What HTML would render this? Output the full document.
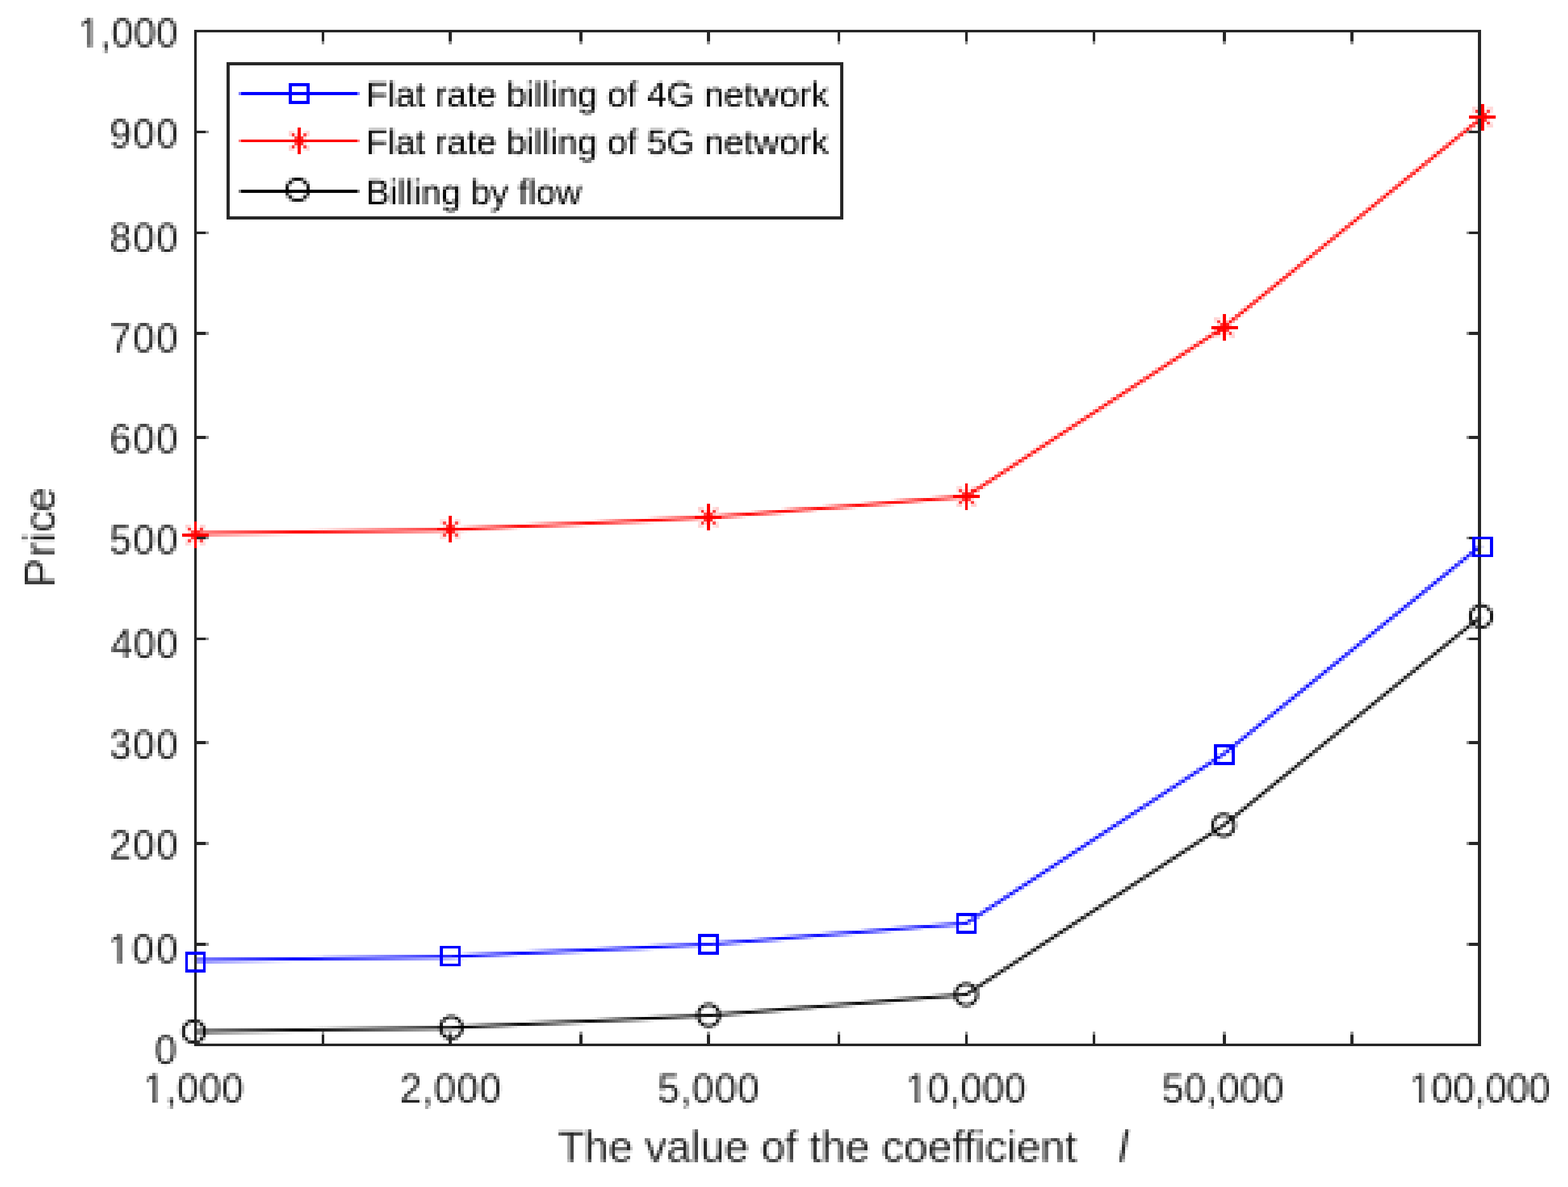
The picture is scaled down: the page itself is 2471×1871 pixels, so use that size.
<!DOCTYPE html>
<html lang="en"><head><meta charset="utf-8"><title>Price versus the value of the coefficient l</title>
<style>html,body{margin:0;padding:0;background:#fff;}body{width:2471px;height:1871px;overflow:hidden;}svg{display:block;}text{font-family:"Liberation Sans",sans-serif;white-space:pre;}</style>
</head><body>
<svg width="2471" height="1871" viewBox="0 0 2471 1871" role="img" aria-label="Line chart: price versus the value of the coefficient l">
<defs>
<path id="c5" fill="#fff" shape-rendering="crispEdges" d="M8 0h1v1871h-1zM13 0h1v1871h-1zM22 0h1v1871h-1zM27 0h1v1871h-1zM36 0h1v1871h-1zM41 0h1v1871h-1zM50 0h1v1871h-1zM55 0h1v1871h-1zM60 0h1v1871h-1zM69 0h1v1871h-1zM74 0h1v1871h-1zM83 0h1v1871h-1zM88 0h1v1871h-1zM97 0h1v1871h-1zM102 0h1v1871h-1zM111 0h1v1871h-1zM116 0h1v1871h-1zM125 0h1v1871h-1zM130 0h1v1871h-1zM139 0h1v1871h-1zM144 0h1v1871h-1zM153 0h1v1871h-1zM158 0h1v1871h-1zM167 0h1v1871h-1zM172 0h1v1871h-1zM181 0h1v1871h-1zM186 0h1v1871h-1zM195 0h1v1871h-1zM200 0h1v1871h-1zM209 0h1v1871h-1zM214 0h1v1871h-1zM223 0h1v1871h-1zM228 0h1v1871h-1zM237 0h1v1871h-1zM242 0h1v1871h-1zM251 0h1v1871h-1zM256 0h1v1871h-1zM265 0h1v1871h-1zM270 0h1v1871h-1zM275 0h1v1871h-1zM284 0h1v1871h-1zM289 0h1v1871h-1zM298 0h1v1871h-1zM303 0h1v1871h-1zM312 0h1v1871h-1zM317 0h1v1871h-1zM326 0h1v1871h-1zM331 0h1v1871h-1zM340 0h1v1871h-1zM345 0h1v1871h-1zM354 0h1v1871h-1zM359 0h1v1871h-1zM368 0h1v1871h-1zM373 0h1v1871h-1zM382 0h1v1871h-1zM387 0h1v1871h-1zM396 0h1v1871h-1zM401 0h1v1871h-1zM410 0h1v1871h-1zM415 0h1v1871h-1zM424 0h1v1871h-1zM429 0h1v1871h-1zM438 0h1v1871h-1zM443 0h1v1871h-1zM452 0h1v1871h-1zM457 0h1v1871h-1zM466 0h1v1871h-1zM471 0h1v1871h-1zM480 0h1v1871h-1zM485 0h1v1871h-1zM490 0h1v1871h-1zM499 0h1v1871h-1zM504 0h1v1871h-1zM513 0h1v1871h-1zM518 0h1v1871h-1zM527 0h1v1871h-1zM532 0h1v1871h-1zM541 0h1v1871h-1zM546 0h1v1871h-1zM555 0h1v1871h-1zM560 0h1v1871h-1zM569 0h1v1871h-1zM574 0h1v1871h-1zM583 0h1v1871h-1zM588 0h1v1871h-1zM597 0h1v1871h-1zM602 0h1v1871h-1zM611 0h1v1871h-1zM616 0h1v1871h-1zM625 0h1v1871h-1zM630 0h1v1871h-1zM639 0h1v1871h-1zM644 0h1v1871h-1zM653 0h1v1871h-1zM658 0h1v1871h-1zM667 0h1v1871h-1zM672 0h1v1871h-1zM681 0h1v1871h-1zM686 0h1v1871h-1zM695 0h1v1871h-1zM700 0h1v1871h-1zM709 0h1v1871h-1zM714 0h1v1871h-1zM719 0h1v1871h-1zM728 0h1v1871h-1zM733 0h1v1871h-1zM742 0h1v1871h-1zM747 0h1v1871h-1zM756 0h1v1871h-1zM761 0h1v1871h-1zM770 0h1v1871h-1zM775 0h1v1871h-1zM784 0h1v1871h-1zM789 0h1v1871h-1zM798 0h1v1871h-1zM803 0h1v1871h-1zM812 0h1v1871h-1zM817 0h1v1871h-1zM826 0h1v1871h-1zM831 0h1v1871h-1zM840 0h1v1871h-1zM845 0h1v1871h-1zM854 0h1v1871h-1zM859 0h1v1871h-1zM868 0h1v1871h-1zM873 0h1v1871h-1zM882 0h1v1871h-1zM887 0h1v1871h-1zM896 0h1v1871h-1zM901 0h1v1871h-1zM910 0h1v1871h-1zM915 0h1v1871h-1zM924 0h1v1871h-1zM929 0h1v1871h-1zM934 0h1v1871h-1zM943 0h1v1871h-1zM948 0h1v1871h-1zM957 0h1v1871h-1zM962 0h1v1871h-1zM971 0h1v1871h-1zM976 0h1v1871h-1zM985 0h1v1871h-1zM990 0h1v1871h-1zM999 0h1v1871h-1zM1004 0h1v1871h-1zM1013 0h1v1871h-1zM1018 0h1v1871h-1zM1027 0h1v1871h-1zM1032 0h1v1871h-1zM1041 0h1v1871h-1zM1046 0h1v1871h-1zM1055 0h1v1871h-1zM1060 0h1v1871h-1zM1069 0h1v1871h-1zM1074 0h1v1871h-1zM1083 0h1v1871h-1zM1088 0h1v1871h-1zM1097 0h1v1871h-1zM1102 0h1v1871h-1zM1111 0h1v1871h-1zM1116 0h1v1871h-1zM1125 0h1v1871h-1zM1130 0h1v1871h-1zM1139 0h1v1871h-1zM1144 0h1v1871h-1zM1149 0h1v1871h-1zM1158 0h1v1871h-1zM1163 0h1v1871h-1zM1172 0h1v1871h-1zM1177 0h1v1871h-1zM1186 0h1v1871h-1zM1191 0h1v1871h-1zM1200 0h1v1871h-1zM1205 0h1v1871h-1zM1214 0h1v1871h-1zM1219 0h1v1871h-1zM1228 0h1v1871h-1zM1233 0h1v1871h-1zM1242 0h1v1871h-1zM1247 0h1v1871h-1zM1256 0h1v1871h-1zM1261 0h1v1871h-1zM1270 0h1v1871h-1zM1275 0h1v1871h-1zM1284 0h1v1871h-1zM1289 0h1v1871h-1zM1298 0h1v1871h-1zM1303 0h1v1871h-1zM1312 0h1v1871h-1zM1317 0h1v1871h-1zM1326 0h1v1871h-1zM1331 0h1v1871h-1zM1340 0h1v1871h-1zM1345 0h1v1871h-1zM1354 0h1v1871h-1zM1359 0h1v1871h-1zM1364 0h1v1871h-1zM1373 0h1v1871h-1zM1378 0h1v1871h-1zM1387 0h1v1871h-1zM1392 0h1v1871h-1zM1401 0h1v1871h-1zM1406 0h1v1871h-1zM1415 0h1v1871h-1zM1420 0h1v1871h-1zM1429 0h1v1871h-1zM1434 0h1v1871h-1zM1443 0h1v1871h-1zM1448 0h1v1871h-1zM1457 0h1v1871h-1zM1462 0h1v1871h-1zM1471 0h1v1871h-1zM1476 0h1v1871h-1zM1485 0h1v1871h-1zM1490 0h1v1871h-1zM1499 0h1v1871h-1zM1504 0h1v1871h-1zM1513 0h1v1871h-1zM1518 0h1v1871h-1zM1527 0h1v1871h-1zM1532 0h1v1871h-1zM1541 0h1v1871h-1zM1546 0h1v1871h-1zM1555 0h1v1871h-1zM1560 0h1v1871h-1zM1569 0h1v1871h-1zM1574 0h1v1871h-1zM1583 0h1v1871h-1zM1588 0h1v1871h-1zM1593 0h1v1871h-1zM1602 0h1v1871h-1zM1607 0h1v1871h-1zM1616 0h1v1871h-1zM1621 0h1v1871h-1zM1630 0h1v1871h-1zM1635 0h1v1871h-1zM1644 0h1v1871h-1zM1649 0h1v1871h-1zM1658 0h1v1871h-1zM1663 0h1v1871h-1zM1672 0h1v1871h-1zM1677 0h1v1871h-1zM1686 0h1v1871h-1zM1691 0h1v1871h-1zM1700 0h1v1871h-1zM1705 0h1v1871h-1zM1714 0h1v1871h-1zM1719 0h1v1871h-1zM1728 0h1v1871h-1zM1733 0h1v1871h-1zM1742 0h1v1871h-1zM1747 0h1v1871h-1zM1756 0h1v1871h-1zM1761 0h1v1871h-1zM1770 0h1v1871h-1zM1775 0h1v1871h-1zM1784 0h1v1871h-1zM1789 0h1v1871h-1zM1798 0h1v1871h-1zM1803 0h1v1871h-1zM1808 0h1v1871h-1zM1817 0h1v1871h-1zM1822 0h1v1871h-1zM1831 0h1v1871h-1zM1836 0h1v1871h-1zM1845 0h1v1871h-1zM1850 0h1v1871h-1zM1859 0h1v1871h-1zM1864 0h1v1871h-1zM1873 0h1v1871h-1zM1878 0h1v1871h-1zM1887 0h1v1871h-1zM1892 0h1v1871h-1zM1901 0h1v1871h-1zM1906 0h1v1871h-1zM1915 0h1v1871h-1zM1920 0h1v1871h-1zM1929 0h1v1871h-1zM1934 0h1v1871h-1zM1943 0h1v1871h-1zM1948 0h1v1871h-1zM1957 0h1v1871h-1zM1962 0h1v1871h-1zM1971 0h1v1871h-1zM1976 0h1v1871h-1zM1985 0h1v1871h-1zM1990 0h1v1871h-1zM1999 0h1v1871h-1zM2004 0h1v1871h-1zM2013 0h1v1871h-1zM2018 0h1v1871h-1zM2023 0h1v1871h-1zM2032 0h1v1871h-1zM2037 0h1v1871h-1zM2046 0h1v1871h-1zM2051 0h1v1871h-1zM2060 0h1v1871h-1zM2065 0h1v1871h-1zM2074 0h1v1871h-1zM2079 0h1v1871h-1zM2088 0h1v1871h-1zM2093 0h1v1871h-1zM2102 0h1v1871h-1zM2107 0h1v1871h-1zM2116 0h1v1871h-1zM2121 0h1v1871h-1zM2130 0h1v1871h-1zM2135 0h1v1871h-1zM2144 0h1v1871h-1zM2149 0h1v1871h-1zM2158 0h1v1871h-1zM2163 0h1v1871h-1zM2172 0h1v1871h-1zM2177 0h1v1871h-1zM2186 0h1v1871h-1zM2191 0h1v1871h-1zM2200 0h1v1871h-1zM2205 0h1v1871h-1zM2214 0h1v1871h-1zM2219 0h1v1871h-1zM2228 0h1v1871h-1zM2233 0h1v1871h-1zM2242 0h1v1871h-1zM2247 0h1v1871h-1zM2252 0h1v1871h-1zM2261 0h1v1871h-1zM2266 0h1v1871h-1zM2275 0h1v1871h-1zM2280 0h1v1871h-1zM2289 0h1v1871h-1zM2294 0h1v1871h-1zM2303 0h1v1871h-1zM2308 0h1v1871h-1zM2317 0h1v1871h-1zM2322 0h1v1871h-1zM2331 0h1v1871h-1zM2336 0h1v1871h-1zM2345 0h1v1871h-1zM2350 0h1v1871h-1zM2359 0h1v1871h-1zM2364 0h1v1871h-1zM2373 0h1v1871h-1zM2378 0h1v1871h-1zM2387 0h1v1871h-1zM2392 0h1v1871h-1zM2401 0h1v1871h-1zM2406 0h1v1871h-1zM2415 0h1v1871h-1zM2420 0h1v1871h-1zM2429 0h1v1871h-1zM2434 0h1v1871h-1zM2443 0h1v1871h-1zM2448 0h1v1871h-1zM2457 0h1v1871h-1zM2462 0h1v1871h-1zM2467 0h1v1871h-1z"/>
<path id="c4" fill="#fff" shape-rendering="crispEdges" d="M4 0h1v1871h-1zM18 0h1v1871h-1zM32 0h1v1871h-1zM46 0h1v1871h-1zM65 0h1v1871h-1zM79 0h1v1871h-1zM93 0h1v1871h-1zM107 0h1v1871h-1zM121 0h1v1871h-1zM135 0h1v1871h-1zM149 0h1v1871h-1zM163 0h1v1871h-1zM177 0h1v1871h-1zM191 0h1v1871h-1zM205 0h1v1871h-1zM219 0h1v1871h-1zM233 0h1v1871h-1zM247 0h1v1871h-1zM261 0h1v1871h-1zM280 0h1v1871h-1zM294 0h1v1871h-1zM308 0h1v1871h-1zM322 0h1v1871h-1zM336 0h1v1871h-1zM350 0h1v1871h-1zM364 0h1v1871h-1zM378 0h1v1871h-1zM392 0h1v1871h-1zM406 0h1v1871h-1zM420 0h1v1871h-1zM434 0h1v1871h-1zM448 0h1v1871h-1zM462 0h1v1871h-1zM476 0h1v1871h-1zM495 0h1v1871h-1zM509 0h1v1871h-1zM523 0h1v1871h-1zM537 0h1v1871h-1zM551 0h1v1871h-1zM565 0h1v1871h-1zM579 0h1v1871h-1zM593 0h1v1871h-1zM607 0h1v1871h-1zM621 0h1v1871h-1zM635 0h1v1871h-1zM649 0h1v1871h-1zM663 0h1v1871h-1zM677 0h1v1871h-1zM691 0h1v1871h-1zM705 0h1v1871h-1zM724 0h1v1871h-1zM738 0h1v1871h-1zM752 0h1v1871h-1zM766 0h1v1871h-1zM780 0h1v1871h-1zM794 0h1v1871h-1zM808 0h1v1871h-1zM822 0h1v1871h-1zM836 0h1v1871h-1zM850 0h1v1871h-1zM864 0h1v1871h-1zM878 0h1v1871h-1zM892 0h1v1871h-1zM906 0h1v1871h-1zM920 0h1v1871h-1zM939 0h1v1871h-1zM953 0h1v1871h-1zM967 0h1v1871h-1zM981 0h1v1871h-1zM995 0h1v1871h-1zM1009 0h1v1871h-1zM1023 0h1v1871h-1zM1037 0h1v1871h-1zM1051 0h1v1871h-1zM1065 0h1v1871h-1zM1079 0h1v1871h-1zM1093 0h1v1871h-1zM1107 0h1v1871h-1zM1121 0h1v1871h-1zM1135 0h1v1871h-1zM1154 0h1v1871h-1zM1168 0h1v1871h-1zM1182 0h1v1871h-1zM1196 0h1v1871h-1zM1210 0h1v1871h-1zM1224 0h1v1871h-1zM1238 0h1v1871h-1zM1252 0h1v1871h-1zM1266 0h1v1871h-1zM1280 0h1v1871h-1zM1294 0h1v1871h-1zM1308 0h1v1871h-1zM1322 0h1v1871h-1zM1336 0h1v1871h-1zM1350 0h1v1871h-1zM1369 0h1v1871h-1zM1383 0h1v1871h-1zM1397 0h1v1871h-1zM1411 0h1v1871h-1zM1425 0h1v1871h-1zM1439 0h1v1871h-1zM1453 0h1v1871h-1zM1467 0h1v1871h-1zM1481 0h1v1871h-1zM1495 0h1v1871h-1zM1509 0h1v1871h-1zM1523 0h1v1871h-1zM1537 0h1v1871h-1zM1551 0h1v1871h-1zM1565 0h1v1871h-1zM1579 0h1v1871h-1zM1598 0h1v1871h-1zM1612 0h1v1871h-1zM1626 0h1v1871h-1zM1640 0h1v1871h-1zM1654 0h1v1871h-1zM1668 0h1v1871h-1zM1682 0h1v1871h-1zM1696 0h1v1871h-1zM1710 0h1v1871h-1zM1724 0h1v1871h-1zM1738 0h1v1871h-1zM1752 0h1v1871h-1zM1766 0h1v1871h-1zM1780 0h1v1871h-1zM1794 0h1v1871h-1zM1813 0h1v1871h-1zM1827 0h1v1871h-1zM1841 0h1v1871h-1zM1855 0h1v1871h-1zM1869 0h1v1871h-1zM1883 0h1v1871h-1zM1897 0h1v1871h-1zM1911 0h1v1871h-1zM1925 0h1v1871h-1zM1939 0h1v1871h-1zM1953 0h1v1871h-1zM1967 0h1v1871h-1zM1981 0h1v1871h-1zM1995 0h1v1871h-1zM2009 0h1v1871h-1zM2028 0h1v1871h-1zM2042 0h1v1871h-1zM2056 0h1v1871h-1zM2070 0h1v1871h-1zM2084 0h1v1871h-1zM2098 0h1v1871h-1zM2112 0h1v1871h-1zM2126 0h1v1871h-1zM2140 0h1v1871h-1zM2154 0h1v1871h-1zM2168 0h1v1871h-1zM2182 0h1v1871h-1zM2196 0h1v1871h-1zM2210 0h1v1871h-1zM2224 0h1v1871h-1zM2238 0h1v1871h-1zM2257 0h1v1871h-1zM2271 0h1v1871h-1zM2285 0h1v1871h-1zM2299 0h1v1871h-1zM2313 0h1v1871h-1zM2327 0h1v1871h-1zM2341 0h1v1871h-1zM2355 0h1v1871h-1zM2369 0h1v1871h-1zM2383 0h1v1871h-1zM2397 0h1v1871h-1zM2411 0h1v1871h-1zM2425 0h1v1871h-1zM2439 0h1v1871h-1zM2453 0h1v1871h-1z"/>
<path id="r5" fill="#fff" shape-rendering="crispEdges" d="M0 2h2471v1h-2471zM0 11h2471v1h-2471zM0 16h2471v1h-2471zM0 25h2471v1h-2471zM0 30h2471v1h-2471zM0 39h2471v1h-2471zM0 44h2471v1h-2471zM0 53h2471v1h-2471zM0 58h2471v1h-2471zM0 67h2471v1h-2471zM0 72h2471v1h-2471zM0 81h2471v1h-2471zM0 86h2471v1h-2471zM0 91h2471v1h-2471zM0 100h2471v1h-2471zM0 105h2471v1h-2471zM0 114h2471v1h-2471zM0 119h2471v1h-2471zM0 128h2471v1h-2471zM0 133h2471v1h-2471zM0 142h2471v1h-2471zM0 147h2471v1h-2471zM0 156h2471v1h-2471zM0 161h2471v1h-2471zM0 170h2471v1h-2471zM0 175h2471v1h-2471zM0 184h2471v1h-2471zM0 189h2471v1h-2471zM0 198h2471v1h-2471zM0 203h2471v1h-2471zM0 212h2471v1h-2471zM0 217h2471v1h-2471zM0 226h2471v1h-2471zM0 231h2471v1h-2471zM0 240h2471v1h-2471zM0 245h2471v1h-2471zM0 254h2471v1h-2471zM0 259h2471v1h-2471zM0 268h2471v1h-2471zM0 273h2471v1h-2471zM0 282h2471v1h-2471zM0 287h2471v1h-2471zM0 296h2471v1h-2471zM0 301h2471v1h-2471zM0 310h2471v1h-2471zM0 315h2471v1h-2471zM0 324h2471v1h-2471zM0 329h2471v1h-2471zM0 338h2471v1h-2471zM0 343h2471v1h-2471zM0 352h2471v1h-2471zM0 357h2471v1h-2471zM0 362h2471v1h-2471zM0 371h2471v1h-2471zM0 376h2471v1h-2471zM0 385h2471v1h-2471zM0 390h2471v1h-2471zM0 399h2471v1h-2471zM0 404h2471v1h-2471zM0 413h2471v1h-2471zM0 418h2471v1h-2471zM0 427h2471v1h-2471zM0 432h2471v1h-2471zM0 441h2471v1h-2471zM0 446h2471v1h-2471zM0 455h2471v1h-2471zM0 460h2471v1h-2471zM0 469h2471v1h-2471zM0 474h2471v1h-2471zM0 483h2471v1h-2471zM0 488h2471v1h-2471zM0 497h2471v1h-2471zM0 502h2471v1h-2471zM0 511h2471v1h-2471zM0 516h2471v1h-2471zM0 525h2471v1h-2471zM0 530h2471v1h-2471zM0 539h2471v1h-2471zM0 544h2471v1h-2471zM0 553h2471v1h-2471zM0 558h2471v1h-2471zM0 567h2471v1h-2471zM0 572h2471v1h-2471zM0 581h2471v1h-2471zM0 586h2471v1h-2471zM0 595h2471v1h-2471zM0 600h2471v1h-2471zM0 609h2471v1h-2471zM0 614h2471v1h-2471zM0 623h2471v1h-2471zM0 628h2471v1h-2471zM0 633h2471v1h-2471zM0 642h2471v1h-2471zM0 647h2471v1h-2471zM0 656h2471v1h-2471zM0 661h2471v1h-2471zM0 670h2471v1h-2471zM0 675h2471v1h-2471zM0 684h2471v1h-2471zM0 689h2471v1h-2471zM0 698h2471v1h-2471zM0 703h2471v1h-2471zM0 712h2471v1h-2471zM0 717h2471v1h-2471zM0 726h2471v1h-2471zM0 731h2471v1h-2471zM0 740h2471v1h-2471zM0 745h2471v1h-2471zM0 754h2471v1h-2471zM0 759h2471v1h-2471zM0 768h2471v1h-2471zM0 773h2471v1h-2471zM0 782h2471v1h-2471zM0 787h2471v1h-2471zM0 796h2471v1h-2471zM0 801h2471v1h-2471zM0 810h2471v1h-2471zM0 815h2471v1h-2471zM0 824h2471v1h-2471zM0 829h2471v1h-2471zM0 838h2471v1h-2471zM0 843h2471v1h-2471zM0 852h2471v1h-2471zM0 857h2471v1h-2471zM0 866h2471v1h-2471zM0 871h2471v1h-2471zM0 880h2471v1h-2471zM0 885h2471v1h-2471zM0 890h2471v1h-2471zM0 899h2471v1h-2471zM0 904h2471v1h-2471zM0 913h2471v1h-2471zM0 918h2471v1h-2471zM0 927h2471v1h-2471zM0 932h2471v1h-2471zM0 941h2471v1h-2471zM0 946h2471v1h-2471zM0 955h2471v1h-2471zM0 960h2471v1h-2471zM0 969h2471v1h-2471zM0 974h2471v1h-2471zM0 983h2471v1h-2471zM0 988h2471v1h-2471zM0 997h2471v1h-2471zM0 1002h2471v1h-2471zM0 1011h2471v1h-2471zM0 1016h2471v1h-2471zM0 1025h2471v1h-2471zM0 1030h2471v1h-2471zM0 1039h2471v1h-2471zM0 1044h2471v1h-2471zM0 1053h2471v1h-2471zM0 1058h2471v1h-2471zM0 1067h2471v1h-2471zM0 1072h2471v1h-2471zM0 1081h2471v1h-2471zM0 1086h2471v1h-2471zM0 1095h2471v1h-2471zM0 1100h2471v1h-2471zM0 1109h2471v1h-2471zM0 1114h2471v1h-2471zM0 1123h2471v1h-2471zM0 1128h2471v1h-2471zM0 1137h2471v1h-2471zM0 1142h2471v1h-2471zM0 1151h2471v1h-2471zM0 1156h2471v1h-2471zM0 1161h2471v1h-2471zM0 1170h2471v1h-2471zM0 1175h2471v1h-2471zM0 1184h2471v1h-2471zM0 1189h2471v1h-2471zM0 1198h2471v1h-2471zM0 1203h2471v1h-2471zM0 1212h2471v1h-2471zM0 1217h2471v1h-2471zM0 1226h2471v1h-2471zM0 1231h2471v1h-2471zM0 1240h2471v1h-2471zM0 1245h2471v1h-2471zM0 1254h2471v1h-2471zM0 1259h2471v1h-2471zM0 1268h2471v1h-2471zM0 1273h2471v1h-2471zM0 1282h2471v1h-2471zM0 1287h2471v1h-2471zM0 1296h2471v1h-2471zM0 1301h2471v1h-2471zM0 1310h2471v1h-2471zM0 1315h2471v1h-2471zM0 1324h2471v1h-2471zM0 1329h2471v1h-2471zM0 1338h2471v1h-2471zM0 1343h2471v1h-2471zM0 1352h2471v1h-2471zM0 1357h2471v1h-2471zM0 1366h2471v1h-2471zM0 1371h2471v1h-2471zM0 1380h2471v1h-2471zM0 1385h2471v1h-2471zM0 1394h2471v1h-2471zM0 1399h2471v1h-2471zM0 1408h2471v1h-2471zM0 1413h2471v1h-2471zM0 1422h2471v1h-2471zM0 1427h2471v1h-2471zM0 1432h2471v1h-2471zM0 1441h2471v1h-2471zM0 1446h2471v1h-2471zM0 1455h2471v1h-2471zM0 1460h2471v1h-2471zM0 1469h2471v1h-2471zM0 1474h2471v1h-2471zM0 1483h2471v1h-2471zM0 1488h2471v1h-2471zM0 1497h2471v1h-2471zM0 1502h2471v1h-2471zM0 1511h2471v1h-2471zM0 1516h2471v1h-2471zM0 1525h2471v1h-2471zM0 1530h2471v1h-2471zM0 1539h2471v1h-2471zM0 1544h2471v1h-2471zM0 1553h2471v1h-2471zM0 1558h2471v1h-2471zM0 1567h2471v1h-2471zM0 1572h2471v1h-2471zM0 1581h2471v1h-2471zM0 1586h2471v1h-2471zM0 1595h2471v1h-2471zM0 1600h2471v1h-2471zM0 1609h2471v1h-2471zM0 1614h2471v1h-2471zM0 1623h2471v1h-2471zM0 1628h2471v1h-2471zM0 1637h2471v1h-2471zM0 1642h2471v1h-2471zM0 1651h2471v1h-2471zM0 1656h2471v1h-2471zM0 1665h2471v1h-2471zM0 1670h2471v1h-2471zM0 1679h2471v1h-2471zM0 1684h2471v1h-2471zM0 1693h2471v1h-2471zM0 1698h2471v1h-2471zM0 1703h2471v1h-2471zM0 1712h2471v1h-2471zM0 1717h2471v1h-2471zM0 1726h2471v1h-2471zM0 1731h2471v1h-2471zM0 1740h2471v1h-2471zM0 1745h2471v1h-2471zM0 1754h2471v1h-2471zM0 1759h2471v1h-2471zM0 1768h2471v1h-2471zM0 1773h2471v1h-2471zM0 1782h2471v1h-2471zM0 1787h2471v1h-2471zM0 1796h2471v1h-2471zM0 1801h2471v1h-2471zM0 1810h2471v1h-2471zM0 1815h2471v1h-2471zM0 1824h2471v1h-2471zM0 1829h2471v1h-2471zM0 1838h2471v1h-2471zM0 1843h2471v1h-2471zM0 1852h2471v1h-2471zM0 1857h2471v1h-2471zM0 1866h2471v1h-2471z"/>
<path id="r4" fill="#fff" shape-rendering="crispEdges" d="M0 7h2471v1h-2471zM0 21h2471v1h-2471zM0 35h2471v1h-2471zM0 49h2471v1h-2471zM0 63h2471v1h-2471zM0 77h2471v1h-2471zM0 96h2471v1h-2471zM0 110h2471v1h-2471zM0 124h2471v1h-2471zM0 138h2471v1h-2471zM0 152h2471v1h-2471zM0 166h2471v1h-2471zM0 180h2471v1h-2471zM0 194h2471v1h-2471zM0 208h2471v1h-2471zM0 222h2471v1h-2471zM0 236h2471v1h-2471zM0 250h2471v1h-2471zM0 264h2471v1h-2471zM0 278h2471v1h-2471zM0 292h2471v1h-2471zM0 306h2471v1h-2471zM0 320h2471v1h-2471zM0 334h2471v1h-2471zM0 348h2471v1h-2471zM0 367h2471v1h-2471zM0 381h2471v1h-2471zM0 395h2471v1h-2471zM0 409h2471v1h-2471zM0 423h2471v1h-2471zM0 437h2471v1h-2471zM0 451h2471v1h-2471zM0 465h2471v1h-2471zM0 479h2471v1h-2471zM0 493h2471v1h-2471zM0 507h2471v1h-2471zM0 521h2471v1h-2471zM0 535h2471v1h-2471zM0 549h2471v1h-2471zM0 563h2471v1h-2471zM0 577h2471v1h-2471zM0 591h2471v1h-2471zM0 605h2471v1h-2471zM0 619h2471v1h-2471zM0 638h2471v1h-2471zM0 652h2471v1h-2471zM0 666h2471v1h-2471zM0 680h2471v1h-2471zM0 694h2471v1h-2471zM0 708h2471v1h-2471zM0 722h2471v1h-2471zM0 736h2471v1h-2471zM0 750h2471v1h-2471zM0 764h2471v1h-2471zM0 778h2471v1h-2471zM0 792h2471v1h-2471zM0 806h2471v1h-2471zM0 820h2471v1h-2471zM0 834h2471v1h-2471zM0 848h2471v1h-2471zM0 862h2471v1h-2471zM0 876h2471v1h-2471zM0 895h2471v1h-2471zM0 909h2471v1h-2471zM0 923h2471v1h-2471zM0 937h2471v1h-2471zM0 951h2471v1h-2471zM0 965h2471v1h-2471zM0 979h2471v1h-2471zM0 993h2471v1h-2471zM0 1007h2471v1h-2471zM0 1021h2471v1h-2471zM0 1035h2471v1h-2471zM0 1049h2471v1h-2471zM0 1063h2471v1h-2471zM0 1077h2471v1h-2471zM0 1091h2471v1h-2471zM0 1105h2471v1h-2471zM0 1119h2471v1h-2471zM0 1133h2471v1h-2471zM0 1147h2471v1h-2471zM0 1166h2471v1h-2471zM0 1180h2471v1h-2471zM0 1194h2471v1h-2471zM0 1208h2471v1h-2471zM0 1222h2471v1h-2471zM0 1236h2471v1h-2471zM0 1250h2471v1h-2471zM0 1264h2471v1h-2471zM0 1278h2471v1h-2471zM0 1292h2471v1h-2471zM0 1306h2471v1h-2471zM0 1320h2471v1h-2471zM0 1334h2471v1h-2471zM0 1348h2471v1h-2471zM0 1362h2471v1h-2471zM0 1376h2471v1h-2471zM0 1390h2471v1h-2471zM0 1404h2471v1h-2471zM0 1418h2471v1h-2471zM0 1437h2471v1h-2471zM0 1451h2471v1h-2471zM0 1465h2471v1h-2471zM0 1479h2471v1h-2471zM0 1493h2471v1h-2471zM0 1507h2471v1h-2471zM0 1521h2471v1h-2471zM0 1535h2471v1h-2471zM0 1549h2471v1h-2471zM0 1563h2471v1h-2471zM0 1577h2471v1h-2471zM0 1591h2471v1h-2471zM0 1605h2471v1h-2471zM0 1619h2471v1h-2471zM0 1633h2471v1h-2471zM0 1647h2471v1h-2471zM0 1661h2471v1h-2471zM0 1675h2471v1h-2471zM0 1689h2471v1h-2471zM0 1708h2471v1h-2471zM0 1722h2471v1h-2471zM0 1736h2471v1h-2471zM0 1750h2471v1h-2471zM0 1764h2471v1h-2471zM0 1778h2471v1h-2471zM0 1792h2471v1h-2471zM0 1806h2471v1h-2471zM0 1820h2471v1h-2471zM0 1834h2471v1h-2471zM0 1848h2471v1h-2471zM0 1862h2471v1h-2471z"/>
<filter id="px" x="0" y="0" width="2471" height="1871" filterUnits="userSpaceOnUse" primitiveUnits="userSpaceOnUse" color-interpolation-filters="sRGB">
<feImage href="#c5" x="0" y="0" width="2471" height="1871" result="c5"/>
<feImage href="#c4" x="0" y="0" width="2471" height="1871" result="c4"/>
<feImage href="#r5" x="0" y="0" width="2471" height="1871" result="r5"/>
<feImage href="#r4" x="0" y="0" width="2471" height="1871" result="r4"/>
<feConvolveMatrix in="SourceGraphic" order="5 1" kernelMatrix="1 1 1 1 1" divisor="5" edgeMode="duplicate" preserveAlpha="false" result="h5"/>
<feConvolveMatrix in="SourceGraphic" order="5 1" kernelMatrix="0 1 1 1 1" divisor="4" edgeMode="duplicate" preserveAlpha="false" result="h4"/>
<feComposite in="h4" in2="c4" operator="in" result="a4"/><feMorphology in="a4" operator="dilate" radius="2 0" result="e4"/>
<feComposite in="h5" in2="c5" operator="in" result="a5"/><feMorphology in="a5" operator="dilate" radius="2 0" result="e5"/>
<feMerge result="H"><feMergeNode in="e4"/><feMergeNode in="e5"/></feMerge>
<feConvolveMatrix in="H" order="1 5" kernelMatrix="1 1 1 1 1" divisor="5" edgeMode="duplicate" preserveAlpha="false" result="v5"/>
<feConvolveMatrix in="H" order="1 5" kernelMatrix="0 1 1 1 1" divisor="4" edgeMode="duplicate" preserveAlpha="false" result="v4"/>
<feComposite in="v4" in2="r4" operator="in" result="g4"/><feMorphology in="g4" operator="dilate" radius="0 2" result="f4"/>
<feComposite in="v5" in2="r5" operator="in" result="g5"/><feMorphology in="g5" operator="dilate" radius="0 2" result="f5"/>
<feMerge><feMergeNode in="f4"/><feMergeNode in="f5"/></feMerge>
</filter>
</defs>
<rect x="0" y="0" width="2471" height="1871" fill="#ffffff"/>
<g filter="url(#px)">
<rect x="0" y="0" width="2471" height="1871" fill="#ffffff"/>
<polyline points="305.6,1513.9 711.2,1507.9 1116.9,1488.5 1522.6,1455.5 1928.3,1188.7 2334.0,859.8" fill="none" stroke="#0000ff" stroke-width="4.75" stroke-linejoin="round"/>
<polyline points="305.6,841.1 711.2,834.8 1116.9,815.6 1522.6,782.7 1928.3,515.9 2334.0,186.5" fill="none" stroke="#ff0000" stroke-width="4.75" stroke-linejoin="round"/>
<path d="M294.9 830.4L320.9 856.4M294.9 856.4L320.9 830.4" fill="none" stroke="#ff0000" stroke-width="3.4"/>
<path d="M696.8 821.1L722.8 847.1M696.8 847.1L722.8 821.1" fill="none" stroke="#ff0000" stroke-width="3.4"/>
<path d="M1103.5 802.4L1129.5 828.4M1103.5 828.4L1129.5 802.4" fill="none" stroke="#ff0000" stroke-width="3.4"/>
<path d="M1510.1 769.7L1536.1 795.7M1510.1 795.7L1536.1 769.7" fill="none" stroke="#ff0000" stroke-width="3.4"/>
<path d="M1916.7 503.4L1942.7 529.4M1916.7 529.4L1942.7 503.4" fill="none" stroke="#ff0000" stroke-width="3.4"/>
<path d="M2323.3 171.6L2349.3 197.6M2323.3 197.6L2349.3 171.6" fill="none" stroke="#ff0000" stroke-width="3.4"/>
<polyline points="305.6,1626.1 711.2,1619.8 1116.9,1600.6 1522.6,1567.7 1928.3,1300.9 2334.0,971.5" fill="none" stroke="#000000" stroke-width="4.75" stroke-linejoin="round"/>
<circle cx="305.6" cy="1626.1" r="17.0" fill="none" stroke="#000000" stroke-width="4.6"/>
<circle cx="711.2" cy="1619.8" r="17.0" fill="none" stroke="#000000" stroke-width="4.6"/>
<circle cx="1116.9" cy="1600.6" r="17.0" fill="none" stroke="#000000" stroke-width="4.6"/>
<circle cx="1522.6" cy="1567.7" r="17.0" fill="none" stroke="#000000" stroke-width="4.6"/>
<circle cx="1928.3" cy="1300.9" r="17.0" fill="none" stroke="#000000" stroke-width="4.6"/>
<circle cx="2334.0" cy="971.5" r="17.0" fill="none" stroke="#000000" stroke-width="4.6"/>
<path d="M458.5 209.0L484.5 235.0M458.5 235.0L484.5 209.0" fill="none" stroke="#ff0000" stroke-width="3.4"/>
<circle cx="469.1" cy="299.1" r="17.0" fill="none" stroke="#000000" stroke-width="4.6"/>
<g fill="#262626" font-size="62.31">
<text transform="translate(123.0 74.1) scale(1 1.035)" textLength="157.5" lengthAdjust="spacing">1,000</text>
<text transform="translate(172.6 233.0) scale(1 1.035)" textLength="108.0" lengthAdjust="spacing">900</text>
<text transform="translate(172.6 396.5) scale(1 1.035)" textLength="108.0" lengthAdjust="spacing">800</text>
<text transform="translate(172.6 555.4) scale(1 1.035)" textLength="108.0" lengthAdjust="spacing">700</text>
<text transform="translate(172.6 714.2) scale(1 1.035)" textLength="108.0" lengthAdjust="spacing">600</text>
<text transform="translate(172.6 873.1) scale(1 1.035)" textLength="108.0" lengthAdjust="spacing">500</text>
<text transform="translate(174.6 1036.7) scale(1 1.035)" textLength="106.0" lengthAdjust="spacing">400</text>
<text transform="translate(172.6 1195.5) scale(1 1.035)" textLength="108.0" lengthAdjust="spacing">300</text>
<text transform="translate(172.6 1354.4) scale(1 1.035)" textLength="108.0" lengthAdjust="spacing">200</text>
<text transform="translate(170.6 1517.9) scale(1 1.035)" textLength="110.0" lengthAdjust="spacing">100</text>
<text transform="translate(243.8 1676.8) scale(1 1.035)" textLength="36.5" lengthAdjust="spacing">0</text>
<text transform="translate(225.7 1737.5) scale(1 1.035)" textLength="158.2" lengthAdjust="spacing">1,000</text>
<text transform="translate(629.9 1737.5) scale(1 1.035)" textLength="160.0" lengthAdjust="spacing">2,000</text>
<text transform="translate(1036.6 1737.5) scale(1 1.035)" textLength="160.0" lengthAdjust="spacing">5,000</text>
<text transform="translate(1427.0 1737.5) scale(1 1.035)" textLength="190.1" lengthAdjust="spacing">10,000</text>
<text transform="translate(1831.3 1737.5) scale(1 1.035)" textLength="192.2" lengthAdjust="spacing">50,000</text>
<text transform="translate(2221.0 1737.5) scale(1 1.035)" textLength="222.5" lengthAdjust="spacing">100,000</text>
</g>
<path fill="#ffffff" d="M126.1 68.8h12.3v6.9h-12.3zM144.5 68.8h11.2v6.9h-11.2zM173.7 1512.6h12.3v6.9h-12.3zM192.1 1512.6h11.2v6.9h-11.2zM228.8 1732.2h12.3v6.9h-12.3zM247.2 1732.2h11.2v6.9h-11.2zM1430.1 1732.2h12.3v6.9h-12.3zM1448.5 1732.2h11.2v6.9h-11.2zM2224.1 1732.2h12.3v6.9h-12.3zM2242.5 1732.2h11.2v6.9h-11.2z"/>
<text x="879.2" y="1831.4" font-size="68.54" fill="#262626">The value of the coefficient <tspan x="1762.5" font-style="italic">l</tspan></text>
<text transform="translate(85.6 926.0) rotate(-90)" font-size="68.54" fill="#262626" x="0 48.2 70.9 87.0 119.6">Price</text>
<text x="576.8" y="168.1" font-size="56.08" fill="#000000">Flat rate billing of 4G network</text>
<text x="576.8" y="242.8" font-size="56.08" fill="#000000">Flat rate billing of 5G network</text>
<text x="576.8" y="322.3" font-size="56.08" fill="#000000">Billing by flow</text>
</g>
<g shape-rendering="crispEdges">
<path fill="#262626" d="M306 47h4v1602h-4zM2329 47h5v1602h-5zM306 47h2028v4h-2028zM306 1645h2028v4h-2028zM507 51h4v14h-4zM507 1631h4v14h-4zM707 51h5v14h-5zM707 1631h5v14h-5zM913 51h5v14h-5zM913 1631h5v14h-5zM1114 51h5v14h-5zM1114 1631h5v14h-5zM1320 51h4v14h-4zM1320 1631h4v14h-4zM1521 51h4v14h-4zM1521 1631h4v14h-4zM1722 51h4v14h-4zM1722 1631h4v14h-4zM1927 51h5v14h-5zM1927 1631h5v14h-5zM2128 51h5v14h-5zM2128 1631h5v14h-5zM310 206h14v4h-14zM2315 206h14v4h-14zM310 365h14v4h-14zM2315 365h14v4h-14zM310 523h14v5h-14zM2315 523h14v5h-14zM310 687h14v5h-14zM2315 687h14v5h-14zM310 846h14v4h-14zM2315 846h14v4h-14zM310 1005h14v4h-14zM2315 1005h14v4h-14zM310 1168h14v5h-14zM2315 1168h14v5h-14zM310 1327h14v5h-14zM2315 1327h14v5h-14zM310 1486h14v5h-14zM2315 1486h14v5h-14zM357 98h5v248h-5zM1324 98h5v248h-5zM357 98h972v5h-972zM357 341h972v5h-972z"/>
<path fill="#262626" fill-opacity="0.5" d="M507 65h4v5h-4zM507 1626h4v5h-4zM707 65h5v5h-5zM707 1626h5v5h-5zM913 65h5v5h-5zM913 1626h5v5h-5zM1114 65h5v5h-5zM1114 1626h5v5h-5zM1320 65h4v5h-4zM1320 1626h4v5h-4zM1521 65h4v5h-4zM1521 1626h4v5h-4zM1722 65h4v5h-4zM1722 1626h4v5h-4zM1927 65h5v5h-5zM1927 1626h5v5h-5zM2128 65h5v5h-5zM2128 1626h5v5h-5zM324 206h5v4h-5zM2311 206h4v4h-4zM324 365h5v4h-5zM2311 365h4v4h-4zM324 523h5v5h-5zM2311 523h4v5h-4zM324 687h5v5h-5zM2311 687h4v5h-4zM324 846h5v4h-5zM2311 846h4v4h-4zM324 1005h5v4h-5zM2311 1005h4v4h-4zM324 1168h5v5h-5zM2311 1168h4v5h-4zM324 1327h5v5h-5zM2311 1327h4v5h-4zM324 1486h5v5h-5zM2311 1486h4v5h-4z"/>
<path fill="#0000ff" d="M380 145h183v5h-183zM455 131h33v5h-33zM455 159h33v5h-33zM455 136h5v23h-5zM483 136h5v23h-5zM292 1500h32v5h-32zM292 1528h32v5h-32zM292 1505h4v23h-4zM320 1505h4v23h-4zM693 1491h33v4h-33zM693 1519h33v4h-33zM693 1495h5v24h-5zM722 1495h4v24h-4zM1100 1472h33v5h-33zM1100 1500h33v5h-33zM1100 1477h5v23h-5zM1128 1477h5v23h-5zM1507 1439h32v5h-32zM1507 1467h32v5h-32zM1507 1444h4v23h-4zM1535 1444h4v23h-4zM1913 1173h33v5h-33zM1913 1201h33v5h-33zM1913 1178h5v23h-5zM1941 1178h5v23h-5zM2320 846h33v4h-33zM2320 874h33v4h-33zM2320 850h5v24h-5zM2348 850h5v24h-5z"/>
<path fill="#ff0000" d="M380 220h183v4h-183zM450 220h43v4h-43zM469 201h5v42h-5zM287 841h42v5h-42zM306 822h4v42h-4zM689 832h42v4h-42zM707 813h5v42h-5zM1095 813h42v5h-42zM1114 794h5v42h-5zM1502 780h42v5h-42zM1521 762h4v42h-4zM1909 514h42v5h-42zM1927 495h5v42h-5zM2315 182h42v5h-42zM2334 164h5v42h-5z"/>
<path fill="#000000" d="M380 299h183v5h-183z"/>
<path fill="#0000ff" fill-opacity="0.5" d="M376 145h4v5h-4zM563 145h4v5h-4z"/><path fill="#ff0000" fill-opacity="0.5" d="M376 220h4v4h-4zM563 220h4v4h-4z"/><path fill="#000000" fill-opacity="0.5" d="M376 299h4v5h-4zM563 299h4v5h-4z"/>
</g>
</svg>
</body></html>
